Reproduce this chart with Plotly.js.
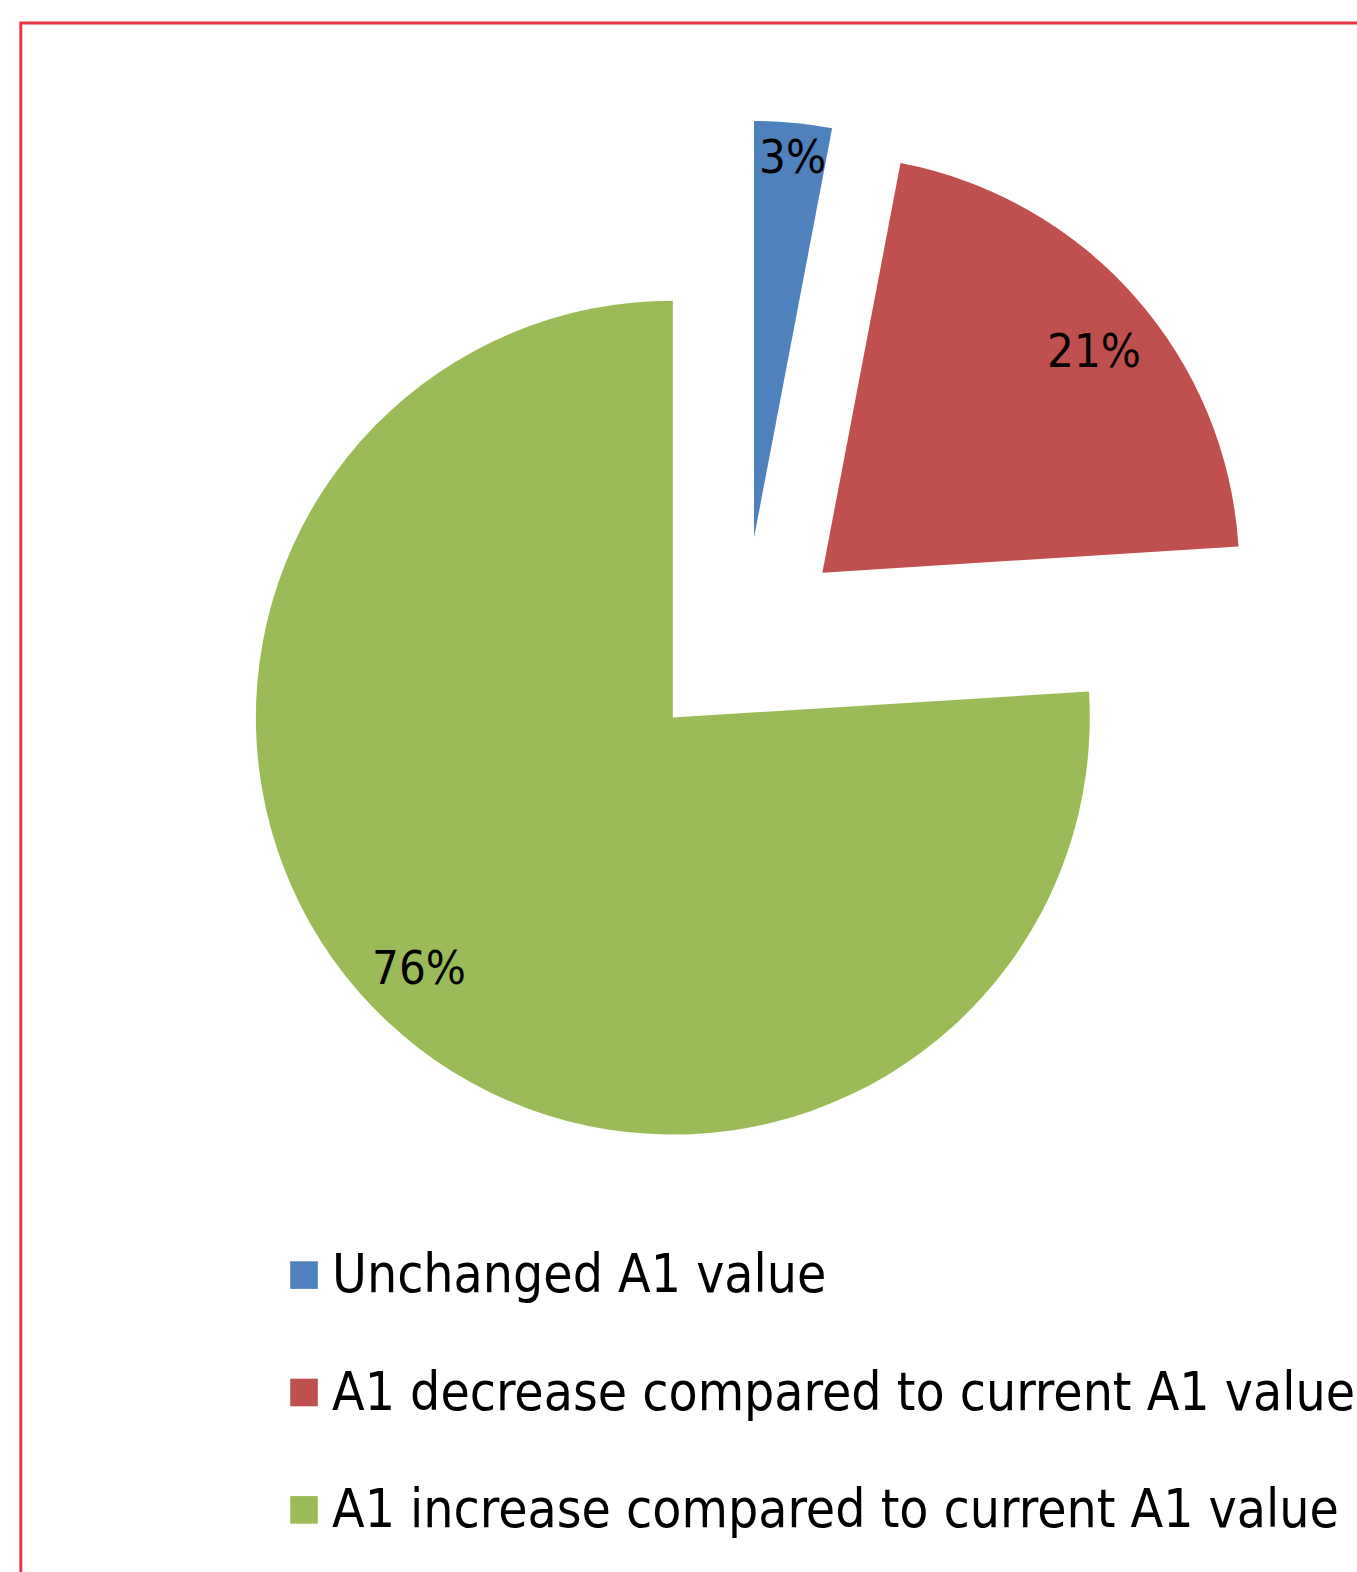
<!DOCTYPE html>
<html>
<head>
<meta charset="utf-8">
<script src="https://cdn.plot.ly/plotly-3.0.1.min.js"></script>
<style>
html, body { margin: 0; padding: 0; background: #ffffff; }
#chart { width: 1357px; height: 1572px; }
.legend .legendpie { transform: translate(20px, 0px) scale(2.3) !important; }
</style>
</head>
<body>
<div id="chart"></div>
<script>
// ---- data ----
const categories = [
  "Unchanged A1 value",
  "A1 decrease compared to current A1 value",
  "A1 increase compared to current A1 value"
];
const values = [3, 21, 76];
const valueLabels = ["3%", "21%", "76%"];

// ---- style ----
const sliceColors = ["#4F81BD", "#C0504D", "#9BBB59"];
const slicePull = [0.25, 0.25, 0.25];
const labelAngleShift = [0.3, 1.6, 1.8];     // degrees, relative to slice bisector
const labelRadius = [1.169, 1.092, 1.104];   // fraction of pie radius, from pie centre
const FONT = '"DejaVu Sans Condensed", "DejaVu Sans", sans-serif';
const W = 1357, H = 1572;
const domX = [0.1643, 0.9325];
const domY = [0.2603, 0.9234];

// geometry used by Plotly for this pie (margins are zero, no auto-expansion)
const cx = W * (domX[0] + domX[1]) / 2;
const cy = H * (1 - (domY[0] + domY[1]) / 2);
const rad = Math.min(W * (domX[1] - domX[0]), H * (domY[1] - domY[0])) / 2 / (1 + Math.max(...slicePull));
const total = values.reduce((a, b) => a + b, 0);

const annotations = [];
let start = 0;
values.forEach((v, i) => {
  const span = v / total * 360;
  const mid = (start + span / 2 + labelAngleShift[i]) * Math.PI / 180;
  start += span;
  const R = labelRadius[i] * rad;
  const px = cx + R * Math.sin(mid);
  const py = cy - R * Math.cos(mid);
  annotations.push({
    xref: 'paper', yref: 'paper',
    x: px / W, y: 1 - py / H,
    xanchor: 'center', yanchor: 'middle',
    text: valueLabels[i], showarrow: false,
    font: { family: FONT, size: 47, color: '#000000' }
  });
});

const trace = {
  type: 'pie',
  labels: categories.map(c => '<span style="font-size:53px">' + c + '</span><br>&nbsp;'),
  values: values,
  sort: false,
  direction: 'clockwise',
  rotation: 0,
  pull: slicePull,
  marker: { colors: sliceColors, line: { width: 0 } },
  textinfo: 'none',
  hoverinfo: 'skip',
  domain: { x: domX, y: domY }
};

const layout = {
  width: W, height: H,
  margin: { l: 0, r: 0, t: 0, b: 0, pad: 0, autoexpand: false },
  paper_bgcolor: '#ffffff',
  showlegend: true,
  legend: {
    x: 0.2093, y: 0.2112, xanchor: 'left', yanchor: 'top',
    orientation: 'v', valign: 'top', itemwidth: 38,
    traceorder: 'normal',
    bgcolor: 'rgba(0,0,0,0)', borderwidth: 0,
    font: { family: FONT, size: 44, color: '#000000' }
  },
  annotations: annotations,
  shapes: [{
    type: 'rect', xref: 'paper', yref: 'paper',
    x0: 20.8 / W, x1: 1.05, y0: 1 - 23 / H, y1: -0.05,
    line: { color: '#EE3344', width: 3 }, fillcolor: 'rgba(0,0,0,0)'
  }],
  font: { family: FONT }
};

Plotly.newPlot('chart', [trace], layout, { displayModeBar: false, staticPlot: true });
</script>
</body>
</html>
